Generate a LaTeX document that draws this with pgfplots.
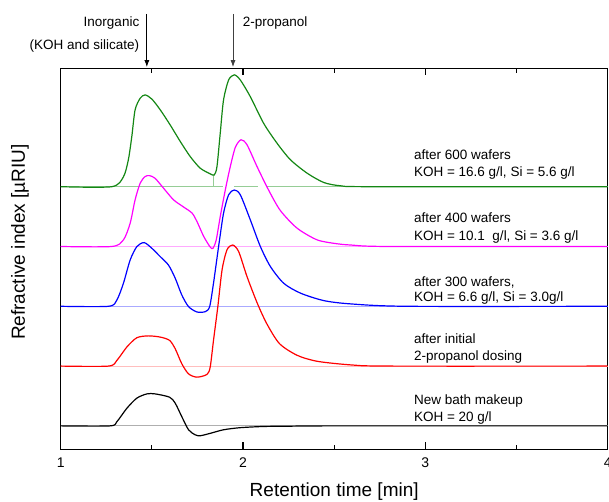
\documentclass[border=0pt]{standalone}
\usepackage{fontspec}
\setmainfont{Liberation Sans}
\usepackage{pgfplots}
\pgfplotsset{compat=1.18}
\usetikzlibrary{arrows.meta}

\definecolor{cgreen}{RGB}{20,135,20}
\definecolor{cmag}{RGB}{255,0,255}
\definecolor{cblue}{RGB}{0,0,255}
\definecolor{cred}{RGB}{255,0,0}
\definecolor{bgreen}{RGB}{150,205,150}
\definecolor{bmag}{RGB}{255,170,255}
\definecolor{bblue}{RGB}{170,170,255}
\definecolor{bred}{RGB}{255,190,190}
\definecolor{bblack}{RGB}{175,175,175}

\newcommand{\txt}{\fontsize{13.5bp}{16bp}\selectfont}

\begin{document}
\begin{tikzpicture}
\begin{axis}[
  at={(0,0)}, anchor=south west,
  scale only axis, width=547bp, height=381.2bp,
  xmin=1, xmax=4, ymin=-0.79, ymax=11.96,
  xtick={1,2,3,4}, minor xtick={1.5,2.5,3.5},
  ytick=\empty, minor ytick={0,...,11},
  tick align=inside, major tick length=7bp, minor tick length=4.5bp,
  axis line style={line width=1.3bp},
  every tick/.style={line width=1.1bp, black},
  ticklabel style={font=\fontsize{14bp}{16bp}\selectfont},
  xticklabel style={yshift=-5bp},
  /pgf/number format/assume math mode=true,
  xlabel={Retention time [min]},
  ylabel={Refractive index [µRIU]},
  label style={font=\fontsize{19bp}{22bp}\selectfont},
  xlabel style={at={(axis description cs:0.5,-0.1115)}, anchor=center},
  ylabel style={at={(axis description cs:-0.0744,0.544)}, anchor=center},
  clip=false,
  smooth, tension=0.45,
]
% baselines
\addplot[bblack, line width=1bp, sharp plot] coordinates {(1,0) (4,0)};
\addplot[bred, line width=1bp, sharp plot] coordinates {(1,2) (4,2)};
\addplot[bblue, line width=1bp, sharp plot] coordinates {(1,4) (4,4)};
\addplot[bmag, line width=1bp, sharp plot] coordinates {(1,6) (4,6)};
\addplot[bgreen, line width=1bp, sharp plot] coordinates {(1,8) (1.89,8)};
\addplot[bgreen, line width=1bp, sharp plot] coordinates {(1.95,8) (2.08,8)};
\addplot[bgreen, line width=1bp, sharp plot] coordinates {(2.13,8) (4,8)};
\addplot[bgreen, line width=0.8bp, sharp plot] coordinates {(1.837,8) (1.837,8.39)};

% New bath makeup
\addplot[black, line width=1.2bp] coordinates {
(1.0,0) (1.27,0) (1.308,0.14) (1.363,0.59) (1.418,0.93) (1.473,1.07) (1.518,1.07)
(1.597,0.96) (1.628,0.76) (1.664,0.31) (1.701,-0.13) (1.738,-0.30) (1.765,-0.33)
(1.82,-0.25) (1.893,-0.13) (1.985,-0.06) (2.113,-0.02) (2.26,-0.01) (2.5,0) (4,0)
};
% after initial 2-propanol dosing
\addplot[cred, line width=1.2bp] coordinates {
(1,2) (1.262,2) (1.308,2.19) (1.363,2.64) (1.418,2.95) (1.481,3.01) (1.546,2.97)
(1.597,2.86) (1.628,2.58) (1.664,2.08) (1.701,1.74) (1.747,1.63) (1.802,1.72)
(1.82,1.97) (1.838,2.86) (1.862,4.0) (1.885,5.22) (1.912,5.89) (1.943,6.05)
(1.976,5.83) (2.022,4.99) (2.077,4.12) (2.13,3.42) (2.20,2.75) (2.297,2.36)
(2.407,2.16) (2.59,2.04) (2.8,2.0) (4,2)
};
% after 300 wafers
\addplot[cblue, line width=1.2bp] coordinates {
(1,4) (1.262,4) (1.308,4.21) (1.344,4.77) (1.381,5.55) (1.418,6.0) (1.458,6.13)
(1.5,5.94) (1.546,5.66) (1.591,5.38) (1.628,4.94) (1.664,4.38) (1.701,3.99)
(1.747,3.81) (1.793,3.82) (1.817,3.99) (1.838,4.77) (1.866,6.0) (1.893,7.11)
(1.921,7.73) (1.952,7.89) (1.985,7.73) (2.04,6.89) (2.095,6.0) (2.15,5.33)
(2.223,4.77) (2.315,4.44) (2.443,4.19) (2.59,4.08) (2.9,4.0) (4,4)
};
% after 400 wafers
\addplot[cmag, line width=1.2bp] coordinates {
(1,6) (1.28,6) (1.344,6.22) (1.381,6.78) (1.408,7.56) (1.436,8.12) (1.463,8.34)
(1.487,8.37) (1.518,8.28) (1.564,7.95) (1.619,7.56) (1.674,7.32) (1.72,7.12)
(1.747,6.84) (1.784,6.34) (1.82,5.98) (1.835,5.94) (1.853,6.22) (1.875,7.0)
(1.903,7.9) (1.93,8.67) (1.958,9.32) (1.989,9.57) (2.022,9.40) (2.077,8.67)
(2.14,7.89) (2.205,7.2) (2.297,6.61) (2.407,6.22) (2.517,6.09) (2.59,6.05)
(2.8,6.0) (4,6)
};
% after 600 wafers
\addplot[cgreen, line width=1.2bp] coordinates {
(1,8) (1.28,8) (1.344,8.33) (1.371,8.90) (1.39,9.68) (1.408,10.57) (1.436,10.96)
(1.463,11.07) (1.5,10.93) (1.546,10.57) (1.60,10.07) (1.656,9.51) (1.71,9.01)
(1.765,8.62) (1.82,8.43) (1.842,8.39) (1.857,8.67) (1.875,9.79) (1.893,10.90)
(1.921,11.57) (1.952,11.74) (1.985,11.57) (2.04,11.01) (2.113,10.12) (2.187,9.45)
(2.26,8.90) (2.352,8.45) (2.443,8.14) (2.535,8.03) (2.7,8) (4,8)
};

% series labels
\node[anchor=base west, inner sep=0, font=\txt] at (axis cs:2.937,8.90) {after 600 wafers};
\node[anchor=base west, inner sep=0, font=\txt] at (axis cs:2.937,8.35) {KOH = 16.6 g/l, Si = 5.6 g/l};
\node[anchor=base west, inner sep=0, font=\txt] at (axis cs:2.937,6.79) {after 400 wafers};
\node[anchor=base west, inner sep=0, font=\txt] at (axis cs:2.937,6.19) {KOH = 10.1\ \ g/l, Si = 3.6 g/l};
\node[anchor=base west, inner sep=0, font=\txt] at (axis cs:2.937,4.67) {after 300 wafers,};
\node[anchor=base west, inner sep=0, font=\txt] at (axis cs:2.937,4.17) {KOH = 6.6 g/l, Si = 3.0g/l};
\node[anchor=base west, inner sep=0, font=\txt] at (axis cs:2.937,2.74) {after initial};
\node[anchor=base west, inner sep=0, font=\txt] at (axis cs:2.937,2.18) {2-propanol dosing};
\node[anchor=base west, inner sep=0, font=\txt] at (axis cs:2.937,0.71) {New bath makeup};
\node[anchor=base west, inner sep=0, font=\txt] at (axis cs:2.937,0.15) {KOH = 20 g/l};

% peak annotations
\draw[black, line width=0.8bp, -{Latex[length=7bp,width=5bp]}]
  ([yshift=54.3bp]axis cs:1.4725,11.96) -- ([yshift=1.2bp]axis cs:1.4725,11.96);
\draw[black!75, line width=0.8bp, -{Latex[length=7bp,width=5bp]}]
  ([yshift=54.3bp]axis cs:1.945,11.96) -- ([yshift=1.2bp]axis cs:1.945,11.96);
\node[anchor=base east, inner sep=0, font=\txt] at ([yshift=41.8bp]axis cs:1.432,11.96) {Inorganic};
\node[anchor=base east, inner sep=0, font=\txt] at ([yshift=19.2bp]axis cs:1.432,11.96) {(KOH and silicate)};
\node[anchor=base west, inner sep=0, font=\txt] at ([yshift=41.8bp]axis cs:1.998,11.96) {2-propanol};
\end{axis}
\pgfresetboundingbox
\useasboundingbox (-60.7bp,-52.5bp) rectangle (548.3bp,449.5bp);
\end{tikzpicture}
\end{document}
